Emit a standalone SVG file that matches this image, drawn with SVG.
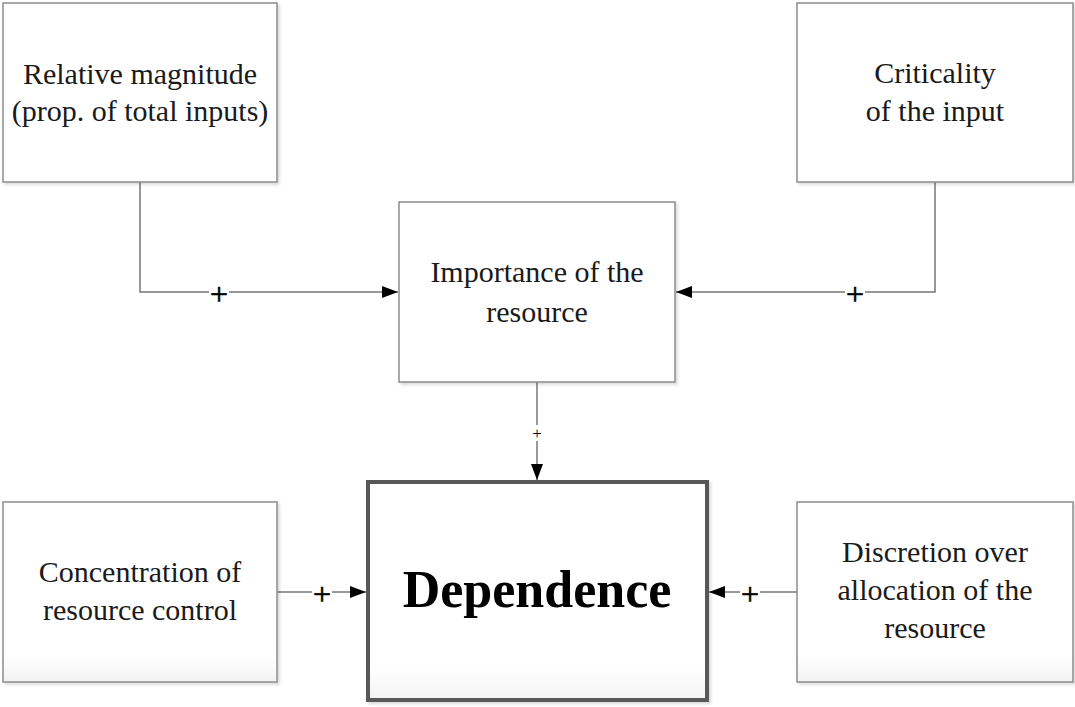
<svg xmlns="http://www.w3.org/2000/svg" width="1075" height="707" viewBox="0 0 1075 707">
<style>
.box{fill:url(#g);stroke:#8c8c8c;stroke-width:1.5}
.flat{fill:#fff}
.main{fill:url(#g);stroke:#595959;stroke-width:4}
.t{font-family:"Liberation Serif","Times New Roman",serif;font-size:30px;fill:#1a1a1a;text-anchor:middle}
.b{font-family:"Liberation Serif","Times New Roman",serif;font-size:52px;font-weight:bold;fill:#000;text-anchor:middle}
.c{fill:none;stroke:#777;stroke-width:1.5}
.p{font-family:"Liberation Serif","Times New Roman",serif;font-size:32px;fill:#000;stroke:#000;stroke-width:0.6;text-anchor:middle}
.ps{font-family:"Liberation Serif","Times New Roman",serif;font-size:17px;fill:#000;text-anchor:middle}
.lb{fill:#fff}
</style>
<defs>
<linearGradient id="g" x1="0" y1="0" x2="0" y2="1">
<stop offset="0" stop-color="#fff"/>
<stop offset="0.85" stop-color="#fff"/>
<stop offset="1" stop-color="#f3f3f3"/>
</linearGradient>
<filter id="sh" x="-5%" y="-5%" width="110%" height="110%">
<feDropShadow dx="2" dy="2" stdDeviation="1.5" flood-color="#000" flood-opacity="0.15"/>
</filter>
<marker id="a" viewBox="0 0 16 12" refX="16" refY="6" markerWidth="16" markerHeight="12" markerUnits="userSpaceOnUse" orient="auto">
<path d="M0,0 L16,6 L0,12 Z" fill="#000"/>
</marker>
</defs>
<g id="connectors">
<path class="c" d="M140,182 V292 H398" marker-end="url(#a)"/>
<path class="c" d="M935,182 V292 H676" marker-end="url(#a)"/>
<path class="c" d="M537,382 V480" marker-end="url(#a)"/>
<path class="c" d="M277,592 H366" marker-end="url(#a)"/>
<path class="c" d="M797,592 H709" marker-end="url(#a)"/>
<rect class="lb" x="209" y="285" width="20" height="18"/>
<text class="p" x="219" y="305">+</text>
<rect class="lb" x="845" y="285" width="20" height="18"/>
<text class="p" x="855" y="305">+</text>
<rect class="lb" x="531" y="425" width="12" height="16"/>
<text class="ps" x="537" y="439">+</text>
<rect class="lb" x="312" y="585" width="20" height="18"/>
<text class="p" x="322" y="605">+</text>
<rect class="lb" x="740" y="585" width="20" height="18"/>
<text class="p" x="750" y="605">+</text>
</g>
<g id="n1">
<rect class="box flat" filter="url(#sh)" x="3" y="3" width="274" height="179"/>
<text class="t" x="140" y="84">Relative magnitude</text>
<text class="t" x="140" y="121">(prop. of total inputs)</text>
</g>
<g id="n2">
<rect class="box flat" filter="url(#sh)" x="797" y="3" width="276" height="179"/>
<text class="t" x="935" y="83">Criticality</text>
<text class="t" x="935" y="121">of the input</text>
</g>
<g id="n3">
<rect class="box flat" filter="url(#sh)" x="399" y="202" width="276" height="180"/>
<text class="t" x="537" y="282">Importance of the</text>
<text class="t" x="537" y="322">resource</text>
</g>
<g id="n4">
<rect class="main" filter="url(#sh)" x="368" y="482" width="339" height="218"/>
<text class="b" x="537" y="607">Dependence</text>
</g>
<g id="n5">
<rect class="box" filter="url(#sh)" x="3" y="502" width="274" height="180"/>
<text class="t" x="140" y="582">Concentration of</text>
<text class="t" x="140" y="620">resource control</text>
</g>
<g id="n6">
<rect class="box" filter="url(#sh)" x="797" y="502" width="276" height="180"/>
<text class="t" x="935" y="562">Discretion over</text>
<text class="t" x="935" y="600">allocation of the</text>
<text class="t" x="935" y="638">resource</text>
</g>
</svg>
